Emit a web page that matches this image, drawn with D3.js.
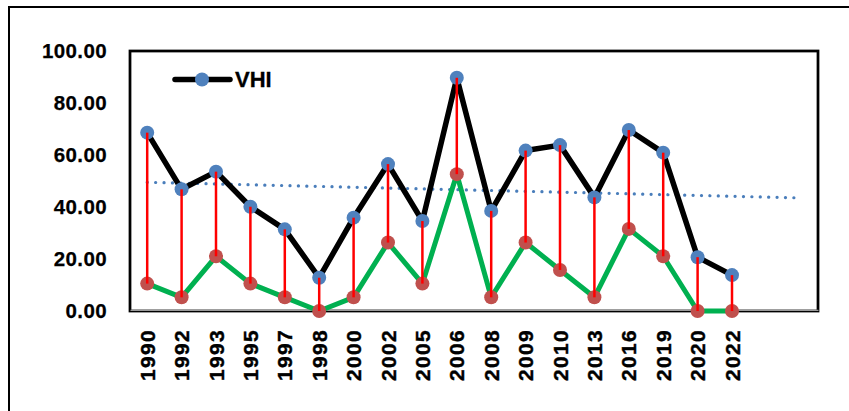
<!DOCTYPE html>
<html>
<head>
<meta charset="utf-8">
<script src="https://cdn.jsdelivr.net/npm/d3@7"></script>
<style>
  html, body { margin: 0; padding: 0; background: #fff; }
  svg { display: block; }
  text { font-family: "Liberation Sans", Arial, sans-serif; font-weight: bold; fill: #000; }
</style>
</head>
<body>
<svg id="chart" width="849" height="411"></svg>
<script>
// Observation years on the category axis
const years = ["1990","1992","1993","1995","1997","1998","2000","2002","2005",
               "2006","2008","2009","2010","2013","2016","2019","2020","2022"];

// Vegetation Health Index per year (black line, blue markers)
const vhiValues = [68.6, 46.8, 53.6, 40.1, 31.4, 12.8, 35.9, 56.5, 34.6,
                   89.7, 38.5, 61.7, 63.8, 43.7, 69.6, 60.9, 20.7, 13.8];

// Lower series per year (green line, red markers)
const lowValues = [10.53, 5.26, 21.05, 10.53, 5.26, 0, 5.26, 26.32, 10.53,
                   52.63, 5.26, 26.32, 15.79, 5.26, 31.58, 21.05, 0, 0];

// Y-axis tick values
const yTicks = [0, 20, 40, 60, 80, 100];

// Linear trend on VHI, forecast forward this many periods
const forecastPeriods = 2;

const svg = d3.select("#chart");

// Outer chart frame
svg.append("rect")
  .attr("x", 9).attr("y", 7)
  .attr("width", 880).attr("height", 440)
  .attr("fill", "none").attr("stroke", "#000").attr("stroke-width", 2);

const plot = { left: 130, top: 51, right: 818, bottom: 311 };

const slots = d3.range(years.length + forecastPeriods);
const x = d3.scaleBand().domain(slots).range([plot.left, plot.right]).padding(0);
const cx = i => x(i) + x.bandwidth() / 2;
const y = d3.scaleLinear().domain([0, 100]).range([plot.bottom, plot.top]);

// Plot area border
svg.append("rect")
  .attr("x", plot.left).attr("y", plot.top)
  .attr("width", plot.right - plot.left).attr("height", plot.bottom - plot.top)
  .attr("fill", "none").attr("stroke", "#000").attr("stroke-width", 2.75);

// Y axis labels
const yAxis = d3.axisLeft(y).tickValues(yTicks).tickFormat(d3.format(".2f")).tickSize(0).tickPadding(0);
const gy = svg.append("g").attr("transform", `translate(107,0)`).call(yAxis);
gy.select(".domain").remove();
gy.selectAll("text")
  .attr("font-size", 20.5).attr("letter-spacing", "0.4px")
  .attr("font-family", "'Liberation Sans', Arial, sans-serif").attr("font-weight", "bold")
  .attr("fill", "#000").attr("stroke", "#000").attr("stroke-width", 0.25);

// X axis (category line + rotated year labels)
const xAxis = d3.axisBottom(x).tickValues(d3.range(years.length))
  .tickFormat(i => years[i]).tickSize(0);
const gx = svg.append("g").attr("transform", `translate(0,${plot.bottom})`).call(xAxis);
gx.select(".domain").attr("stroke", "#9a9a9a").attr("stroke-width", 1.2)
  .attr("transform", "translate(0,-1.2)");
gx.selectAll("text")
  .attr("font-size", 21).attr("letter-spacing", "1.3px")
  .attr("font-family", "'Liberation Sans', Arial, sans-serif").attr("font-weight", "bold")
  .attr("fill", "#000").attr("stroke", "#000").attr("stroke-width", 0.4)
  .attr("text-anchor", "end")
  .attr("transform", "rotate(-90)")
  .attr("x", -18).attr("y", 0).attr("dy", "0.36em");

// Linear least-squares trend of VHI over category index
const n = vhiValues.length;
const idx = d3.range(n);
const mx = d3.mean(idx), my = d3.mean(vhiValues);
const slope = d3.sum(idx, i => (i - mx) * (vhiValues[i] - my)) / d3.sum(idx, i => (i - mx) ** 2);
const intercept = my - slope * mx;
const lastSlot = n - 1 + forecastPeriods;

svg.append("line")
  .attr("x1", cx(0)).attr("y1", y(intercept))
  .attr("x2", cx(lastSlot)).attr("y2", y(intercept + slope * lastSlot))
  .attr("stroke", "#4a7ebb").attr("stroke-width", 3.2)
  .attr("stroke-linecap", "round").attr("stroke-dasharray", "0.1 8.3");

const line = d3.line().x((d, i) => cx(i)).y(d => y(d));

// Green line for the lower series
svg.append("path").datum(lowValues)
  .attr("d", line).attr("fill", "none")
  .attr("stroke", "#00b050").attr("stroke-width", 5).attr("stroke-linejoin", "round");

// Black VHI line
svg.append("path").datum(vhiValues)
  .attr("d", line).attr("fill", "none")
  .attr("stroke", "#000").attr("stroke-width", 5.5).attr("stroke-linejoin", "round");

// Markers
svg.append("g").selectAll("circle").data(lowValues).join("circle")
  .attr("cx", (d, i) => cx(i)).attr("cy", d => y(d)).attr("r", 7)
  .attr("fill", "#c0504d");

svg.append("g").selectAll("circle").data(vhiValues).join("circle")
  .attr("cx", (d, i) => cx(i)).attr("cy", d => y(d)).attr("r", 7)
  .attr("fill", "#4f81bd");

// Red drop lines between the two series
svg.append("g").selectAll("line").data(idx).join("line")
  .attr("x1", i => cx(i)).attr("x2", i => cx(i))
  .attr("y1", i => y(vhiValues[i])).attr("y2", i => y(lowValues[i]))
  .attr("stroke", "#ff0000").attr("stroke-width", 2.5);

// Legend
const lg = svg.append("g").attr("transform", "translate(175,79.5)");
lg.append("line").attr("x1", 0).attr("x2", 55).attr("y1", 0).attr("y2", 0)
  .attr("stroke", "#000").attr("stroke-width", 5.5).attr("stroke-linecap", "round");
lg.append("circle").attr("cx", 27).attr("cy", 0).attr("r", 7).attr("fill", "#4f81bd");
lg.append("text").attr("x", 60).attr("y", 0).attr("dy", "0.36em")
  .attr("font-size", 22).attr("stroke", "#000").attr("stroke-width", 0.3).text("VHI");
</script>
</body>
</html>
